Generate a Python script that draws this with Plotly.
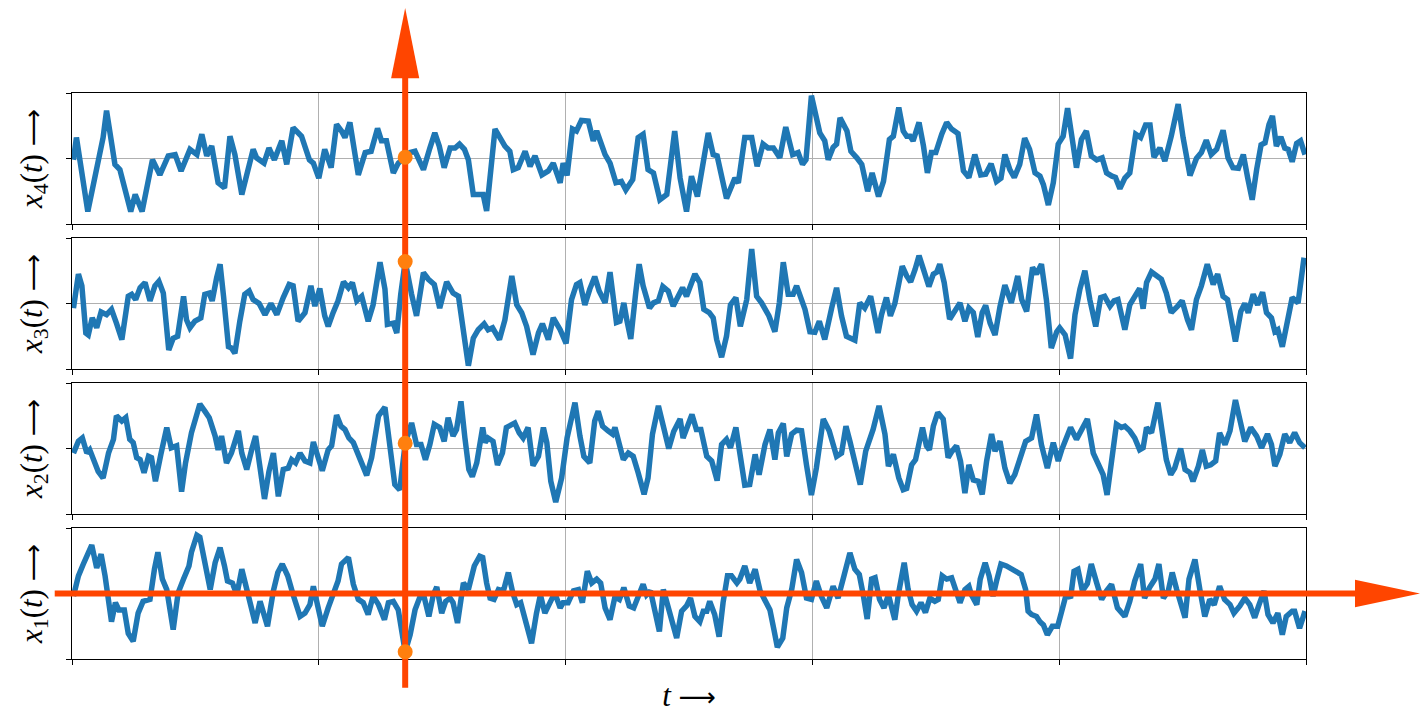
import plotly.graph_objects as go
from plotly.subplots import make_subplots

# Sampled signals x1..x4 as (t, value) pairs; t runs from 0 to 250.
X4_SAMPLES = [
    (0.3, -0.02), (0.9, 0.32), (3.2, -0.81), (5.3, -0.02), (6.3, 0.32), (7.0, 0.73), (8.7, -0.09),
    (9.7, -0.17), (10.7, -0.45), (11.9, -0.81), (12.8, -0.55), (14.2, -0.81), (16.3, -0.02),
    (17.8, -0.25), (19.5, 0.04), (20.9, 0.06), (22.1, -0.19), (23.9, 0.14), (25.3, 0.06), (26.3, 0.37),
    (27.3, 0.04), (28.3, 0.19), (29.6, -0.37), (30.9, -0.45), (32.0, 0.34), (33.0, 0.06), (34.4, -0.55),
    (35.4, -0.27), (36.7, 0.14), (37.4, 0.01), (38.9, -0.07), (39.9, 0.16), (41.0, -0.02), (42.5, 0.27),
    (43.5, -0.09), (44.8, 0.47), (46.5, 0.34), (48.1, -0.02), (48.9, -0.07), (50.0, -0.30), (51.2, 0.14),
    (52.5, -0.14), (53.6, 0.52), (54.6, 0.42), (55.3, 0.32), (56.3, 0.55), (58.0, -0.25), (59.4, 0.09),
    (60.6, 0.11), (61.9, 0.46), (62.7, 0.27), (63.7, 0.27), (65.1, -0.22), (66.1, -0.07), (67.5, 0.02),
    (68.5, 0.09), (69.5, 0.11), (71.2, -0.17), (72.5, 0.16), (73.5, 0.39), (74.4, 0.19), (75.4, -0.14),
    (76.6, 0.16), (77.6, 0.16), (78.5, 0.22), (79.5, 0.14), (80.3, -0.02), (81.3, -0.55), (82.6, -0.55),
    (83.3, -0.55), (84.0, -0.80), (84.7, -0.30), (85.7, 0.45), (86.7, 0.32), (87.7, 0.19), (88.7, 0.11),
    (89.4, -0.17), (90.4, -0.14), (91.8, 0.11), (92.8, -0.12), (93.8, 0.04), (95.2, -0.25), (96.5, -0.19),
    (97.5, -0.07), (98.9, -0.37), (99.5, -0.07), (100.3, -0.26), (101.4, 0.45), (102.2, 0.42),
    (103.2, 0.58), (104.6, 0.57), (105.6, 0.27), (106.3, 0.42), (108.0, 0.06), (109.0, -0.07),
    (110.2, -0.37), (111.3, -0.35), (112.2, -0.48), (113.6, -0.32), (114.7, 0.32), (115.7, 0.37),
    (116.7, -0.17), (117.8, -0.22), (119.1, -0.63), (120.5, -0.55), (122.1, 0.42), (123.2, -0.30),
    (124.5, -0.81), (125.5, -0.27), (126.7, -0.58), (128.9, 0.39), (129.9, 0.06), (130.7, 0.04),
    (132.6, -0.61), (134.3, -0.30), (135.0, -0.37), (136.3, 0.32), (137.7, 0.32), (138.8, -0.12),
    (140.0, 0.22), (141.0, 0.16), (142.1, 0.16), (143.4, 0.01), (144.6, 0.48), (146.0, 0.06),
    (147.1, 0.09), (148.0, -0.09), (148.7, -0.02), (149.8, 0.96), (151.5, 0.39), (152.5, 0.27),
    (153.2, -0.02), (154.2, 0.17), (154.9, 0.22), (155.6, 0.62), (157.0, 0.42), (157.8, 0.11),
    (159.0, 0.01), (160.0, -0.09), (161.2, -0.50), (162.1, -0.22), (163.4, -0.58), (164.4, -0.35),
    (165.6, 0.29), (166.4, 0.34), (167.5, 0.78), (168.4, 0.42), (169.1, 0.34), (169.8, 0.34),
    (170.4, 0.27), (171.6, 0.55), (172.5, 0.19), (173.3, -0.22), (174.1, 0.09), (175.0, 0.09),
    (176.2, 0.37), (177.2, 0.55), (178.2, 0.45), (179.5, 0.38), (180.6, -0.19), (181.7, -0.29),
    (182.9, 0.06), (184.1, -0.25), (185.1, -0.24), (186.2, -0.08), (187.3, -0.35), (188.2, -0.30),
    (189.0, 0.06), (190.0, -0.17), (190.9, -0.29), (192.0, -0.09), (193.0, 0.31), (194.0, 0.14),
    (195.1, -0.22), (196.1, -0.27), (196.8, -0.40), (197.8, -0.71), (198.8, -0.37), (199.8, 0.22),
    (200.8, 0.34), (201.7, 0.77), (202.7, 0.27), (203.5, -0.14), (204.5, 0.29), (205.5, 0.42),
    (206.5, 0.04), (207.6, -0.02), (208.7, 0.01), (209.6, -0.22), (210.7, -0.27), (211.4, -0.29),
    (212.3, -0.46), (213.3, -0.30), (214.3, -0.22), (215.5, 0.37), (216.5, 0.32), (217.5, 0.51),
    (218.4, 0.51), (219.2, 0.02), (220.4, 0.16), (221.4, -0.04), (222.7, 0.34), (224.1, 0.83),
    (225.1, 0.32), (226.5, -0.26), (227.8, 0.00), (228.8, 0.09), (229.8, 0.28), (230.8, 0.06),
    (231.9, 0.14), (233.2, 0.43), (234.2, 0.01), (235.2, -0.14), (236.3, -0.15), (237.3, 0.06),
    (238.2, -0.30), (239.1, -0.63), (240.0, -0.17), (240.9, 0.21), (241.7, 0.24), (242.5, 0.52),
    (243.2, 0.65), (244.0, 0.19), (244.9, 0.33), (245.7, 0.16), (246.4, 0.14), (247.2, -0.05),
    (248.1, 0.23), (248.9, 0.27), (249.8, 0.06),
]

X3_SAMPLES = [
    (0.3, -0.07), (1.3, 0.45), (2.0, 0.27), (2.8, -0.45), (3.3, -0.48), (4.1, -0.22), (5.0, -0.37),
    (5.9, -0.13), (7.0, -0.17), (8.0, -0.09), (9.0, -0.30), (10.1, -0.55), (11.4, 0.11), (12.1, 0.14),
    (12.9, 0.06), (13.8, 0.24), (14.8, 0.32), (15.8, 0.04), (16.8, 0.27), (17.6, 0.34), (18.5, 0.16),
    (19.6, -0.71), (20.5, -0.53), (21.4, -0.50), (22.6, 0.11), (23.2, -0.25), (23.9, -0.37),
    (24.9, -0.27), (26.1, -0.22), (26.9, 0.14), (27.8, 0.16), (28.4, 0.04), (29.3, 0.39), (30.0, 0.60),
    (30.7, 0.11), (31.7, -0.66), (32.3, -0.68), (33.0, -0.76), (34.0, -0.27), (35.0, 0.14), (35.9, 0.19),
    (36.7, 0.06), (37.9, 0.00), (39.1, -0.17), (40.3, 0.00), (41.5, -0.17), (42.8, 0.09), (44.0, 0.29),
    (44.8, 0.27), (45.8, -0.27), (47.2, -0.14), (48.4, 0.27), (49.2, -0.04), (50.2, 0.23), (51.2, -0.19),
    (51.9, -0.35), (52.9, -0.14), (53.9, 0.04), (55.0, 0.33), (56.0, 0.24), (56.8, 0.32), (57.7, 0.04),
    (58.7, 0.11), (60.0, -0.27), (61.0, -0.02), (62.4, 0.63), (63.4, 0.22), (63.9, -0.32), (65.1, -0.30),
    (65.8, -0.45), (66.6, 0.14), (67.5, 0.64), (68.8, 0.14), (69.8, -0.19), (71.2, 0.47), (72.2, 0.37),
    (73.4, 0.29), (74.5, -0.07), (75.9, 0.33), (77.2, 0.16), (78.3, 0.11), (79.3, -0.40), (80.3, -0.95),
    (81.3, -0.53), (82.3, -0.40), (83.5, -0.31), (84.3, -0.40), (85.2, -0.37), (86.6, -0.55),
    (87.7, -0.25), (89.1, 0.42), (90.1, -0.02), (91.1, -0.14), (92.1, -0.35), (93.4, -0.78),
    (94.5, -0.45), (95.3, -0.31), (96.5, -0.55), (97.5, -0.22), (98.9, -0.40), (100.1, -0.61),
    (101.2, 0.06), (102.2, 0.29), (102.9, 0.32), (103.9, -0.02), (104.9, 0.22), (105.9, 0.41),
    (106.8, 0.19), (108.0, 0.01), (109.0, 0.48), (109.7, 0.06), (110.3, -0.29), (111.0, -0.27),
    (111.8, 0.01), (112.4, -0.25), (113.2, -0.54), (114.2, 0.16), (114.9, 0.60), (115.7, 0.27),
    (117.0, -0.07), (117.8, 0.01), (118.8, 0.04), (119.7, 0.26), (120.8, 0.19), (121.8, -0.04),
    (122.8, 0.09), (123.7, 0.24), (124.5, 0.11), (125.5, 0.34), (126.2, 0.45), (127.2, 0.32),
    (128.0, -0.09), (129.1, -0.14), (129.9, -0.22), (130.6, -0.55), (131.6, -0.82), (132.6, -0.50),
    (133.4, -0.02), (134.5, 0.09), (135.4, -0.35), (136.7, 0.06), (137.7, 0.83), (138.7, 0.11),
    (139.7, 0.01), (141.2, -0.19), (142.4, -0.43), (143.3, 0.01), (144.1, 0.63), (145.1, 0.14),
    (146.1, 0.14), (146.8, 0.27), (147.6, 0.09), (148.5, -0.09), (149.5, -0.43), (150.5, -0.44),
    (151.4, -0.27), (152.5, -0.55), (153.9, -0.07), (154.9, 0.24), (155.9, -0.19), (156.9, -0.50),
    (158.6, -0.56), (159.6, 0.01), (160.6, -0.07), (161.8, 0.11), (163.3, -0.45), (164.0, -0.17),
    (165.0, 0.09), (165.8, -0.19), (166.7, 0.00), (167.4, 0.32), (168.2, 0.57), (169.1, 0.42),
    (169.9, 0.33), (170.8, 0.52), (171.6, 0.73), (172.5, 0.52), (173.6, 0.26), (174.5, 0.45),
    (175.2, 0.48), (175.8, 0.60), (176.7, 0.32), (177.8, -0.24), (178.9, -0.12), (179.9, 0.01),
    (180.9, -0.27), (181.7, -0.07), (182.6, -0.14), (183.5, -0.51), (184.4, -0.14), (185.1, -0.03),
    (186.0, -0.30), (187.0, -0.48), (188.0, -0.05), (189.0, 0.28), (190.3, 0.01), (191.6, 0.42),
    (192.4, 0.06), (193.4, -0.12), (194.6, 0.55), (195.4, 0.45), (196.4, 0.60), (197.4, 0.06),
    (198.4, -0.68), (199.5, -0.43), (200.1, -0.37), (201.2, -0.48), (202.3, -0.84), (203.2, -0.17),
    (204.2, 0.22), (205.2, 0.50), (206.2, 0.06), (207.4, -0.35), (208.4, 0.09), (209.2, 0.11),
    (210.3, -0.04), (211.1, 0.04), (211.9, 0.06), (213.3, -0.40), (214.3, -0.02), (215.3, 0.11),
    (216.3, 0.23), (217.0, -0.08), (217.7, 0.32), (218.7, 0.48), (219.7, 0.42), (220.7, 0.37),
    (221.7, 0.16), (222.7, -0.14), (224.0, -0.04), (224.9, 0.04), (226.0, -0.25), (226.8, -0.40),
    (227.8, 0.06), (228.8, 0.27), (230.0, 0.60), (231.2, 0.29), (232.1, 0.45), (233.2, 0.11),
    (234.1, 0.06), (234.9, -0.30), (235.7, -0.58), (236.8, -0.12), (237.6, 0.00), (238.3, -0.14),
    (239.3, 0.14), (240.2, -0.02), (241.2, 0.17), (242.0, -0.14), (243.0, -0.22), (243.7, -0.43),
    (244.3, -0.40), (245.2, -0.66), (246.2, -0.30), (247.2, 0.09), (248.4, 0.01), (249.6, 0.70),
]

X2_SAMPLES = [
    (0.3, -0.07), (1.3, 0.11), (2.1, 0.16), (3.0, -0.07), (3.6, -0.02), (4.7, -0.27), (5.3, -0.35),
    (6.3, -0.45), (7.4, -0.07), (8.4, 0.14), (9.0, 0.50), (10.1, 0.42), (10.9, 0.47), (11.7, 0.14),
    (12.4, 0.09), (13.1, -0.14), (13.8, -0.17), (14.6, -0.37), (15.5, -0.12), (16.1, -0.14),
    (16.9, -0.50), (18.0, -0.09), (19.2, 0.32), (20.1, 0.01), (21.2, 0.04), (22.2, -0.66), (23.0, -0.22),
    (24.2, 0.24), (25.3, 0.52), (25.9, 0.68), (26.9, 0.57), (27.8, 0.47), (29.0, 0.19), (29.6, -0.02),
    (30.3, 0.19), (31.3, -0.22), (32.3, -0.07), (33.7, 0.27), (34.4, -0.07), (35.4, -0.32), (36.4, -0.02),
    (37.2, 0.19), (37.9, -0.19), (39.0, -0.77), (39.9, -0.35), (40.8, -0.07), (41.8, -0.73),
    (42.8, -0.32), (43.8, -0.30), (44.5, -0.17), (45.3, -0.22), (46.2, -0.07), (47.2, -0.19),
    (48.2, -0.22), (48.9, 0.10), (49.6, -0.07), (50.7, -0.34), (51.9, -0.02), (52.6, 0.04), (53.6, 0.51),
    (54.5, 0.34), (55.3, 0.29), (56.1, 0.16), (57.0, 0.09), (57.7, -0.05), (58.7, -0.22), (59.7, -0.41),
    (60.7, -0.14), (62.1, 0.50), (63.4, 0.63), (64.4, 0.06), (65.4, -0.55), (66.4, -0.63), (67.5, 0.08),
    (68.8, 0.39), (69.8, 0.06), (70.7, 0.06), (71.6, -0.17), (72.5, 0.06), (73.4, 0.37), (74.5, 0.32),
    (75.4, 0.11), (76.2, 0.47), (77.2, 0.19), (77.9, 0.29), (78.8, 0.72), (79.6, 0.16), (80.4, -0.32),
    (81.1, -0.43), (82.0, -0.22), (83.2, 0.32), (83.7, 0.09), (84.3, 0.16), (85.3, 0.11), (86.2, -0.25),
    (87.2, -0.07), (88.0, 0.32), (89.1, 0.37), (89.7, 0.39), (90.6, 0.24), (91.4, 0.16), (92.4, 0.32),
    (93.4, -0.26), (94.5, -0.12), (95.5, 0.32), (96.2, 0.09), (97.0, -0.50), (98.0, -0.82),
    (99.2, -0.45), (100.3, 0.16), (101.9, 0.70), (102.9, 0.19), (103.7, -0.12), (104.9, -0.22),
    (105.9, 0.42), (106.6, 0.57), (107.5, 0.34), (108.6, 0.27), (109.5, 0.22), (110.0, 0.32),
    (110.9, 0.01), (111.7, -0.17), (112.7, -0.07), (113.7, -0.12), (114.7, -0.37), (115.9, -0.70),
    (116.7, -0.45), (117.6, 0.22), (118.8, 0.65), (119.8, 0.37), (120.9, 0.00), (121.9, 0.26),
    (123.2, 0.45), (123.8, 0.16), (124.6, 0.32), (125.6, 0.52), (126.5, 0.29), (127.4, 0.29),
    (128.6, -0.12), (129.6, -0.19), (130.7, -0.49), (131.6, 0.06), (132.6, 0.14), (133.4, 0.01),
    (134.5, 0.32), (135.3, -0.02), (136.3, -0.56), (137.3, -0.55), (138.4, -0.09), (139.2, -0.40),
    (140.4, 0.06), (141.4, 0.29), (142.4, -0.17), (143.1, 0.24), (144.1, 0.38), (144.8, -0.12),
    (145.8, 0.22), (146.8, 0.28), (147.8, 0.27), (148.8, -0.25), (149.8, -0.71), (150.8, -0.30),
    (152.2, 0.45), (153.4, 0.27), (154.9, -0.12), (155.9, -0.07), (156.8, 0.34), (157.6, 0.11),
    (158.6, -0.17), (159.7, -0.55), (160.8, -0.04), (162.3, 0.29), (163.5, 0.65), (164.7, 0.22),
    (165.4, -0.27), (166.4, -0.09), (167.5, -0.45), (168.4, -0.63), (169.1, -0.61), (170.1, -0.25),
    (170.9, -0.17), (171.4, -0.02), (172.3, 0.32), (173.1, 0.04), (173.7, -0.02), (174.5, 0.34),
    (175.4, 0.55), (176.5, 0.45), (177.5, -0.14), (178.3, -0.04), (179.2, 0.04), (180.0, -0.19),
    (180.9, -0.68), (181.7, -0.25), (182.6, -0.48), (183.6, -0.50), (184.4, -0.70), (185.3, -0.19),
    (186.3, 0.22), (187.0, -0.04), (188.0, 0.11), (189.0, -0.30), (190.0, -0.53), (191.0, -0.40),
    (192.0, -0.14), (193.2, 0.11), (194.4, 0.16), (195.4, 0.52), (196.4, 0.06), (197.6, -0.30),
    (198.8, 0.09), (199.8, -0.19), (200.5, -0.02), (201.5, 0.19), (202.3, 0.32), (203.5, 0.14),
    (204.5, 0.27), (205.7, 0.45), (206.9, -0.07), (207.9, -0.22), (208.9, -0.40), (209.7, -0.71),
    (210.6, -0.14), (211.6, 0.37), (212.6, 0.32), (213.3, 0.34), (214.3, 0.27), (215.3, 0.16),
    (216.3, -0.02), (217.0, 0.01), (217.7, 0.32), (218.7, 0.24), (220.0, 0.70), (221.1, 0.19),
    (221.7, -0.17), (222.6, -0.40), (223.4, -0.30), (224.6, 0.00), (225.5, -0.32), (226.5, -0.37),
    (227.1, -0.50), (228.2, -0.27), (229.0, -0.02), (229.8, -0.27), (230.7, -0.25), (231.7, -0.19),
    (232.5, 0.24), (233.6, 0.06), (234.6, 0.27), (235.7, 0.74), (236.6, 0.42), (237.6, 0.11),
    (238.8, 0.32), (240.0, 0.19), (241.0, 0.01), (242.2, 0.22), (243.0, 0.06), (243.7, -0.27),
    (244.7, -0.09), (245.7, 0.22), (246.7, 0.09), (247.7, 0.24), (248.7, 0.09), (249.8, 0.01),
]

X1_SAMPLES = [
    (0.3, -0.04), (1.3, 0.27), (2.3, 0.45), (3.2, 0.60), (4.0, 0.74), (5.0, 0.39), (5.9, 0.60),
    (6.7, 0.27), (7.4, -0.14), (8.0, -0.43), (8.8, -0.14), (9.5, -0.25), (10.6, -0.25), (11.4, -0.61),
    (12.4, -0.73), (13.4, -0.30), (14.4, -0.12), (15.8, -0.09), (16.7, 0.37), (17.4, 0.63), (18.3, 0.22),
    (19.2, 0.06), (20.5, -0.55), (21.5, 0.01), (22.6, 0.22), (23.7, 0.42), (24.2, 0.63), (25.3, 0.89),
    (25.9, 0.86), (26.9, 0.52), (28.0, 0.06), (29.0, 0.47), (30.0, 0.70), (30.9, 0.42), (31.5, 0.19),
    (32.5, 0.16), (33.4, -0.02), (34.4, 0.37), (35.4, 0.06), (36.3, -0.27), (37.1, -0.45), (38.1, -0.12),
    (38.8, -0.30), (39.6, -0.50), (40.8, 0.04), (41.7, 0.32), (42.6, 0.45), (43.7, 0.27), (44.8, -0.02),
    (46.2, -0.35), (47.2, -0.30), (48.2, -0.17), (48.9, 0.11), (49.9, -0.19), (50.7, -0.50),
    (51.9, -0.22), (52.9, -0.04), (53.9, 0.19), (54.6, 0.45), (56.0, 0.55), (57.0, 0.14), (58.0, -0.09),
    (59.0, -0.14), (60.0, -0.32), (61.0, -0.04), (62.1, -0.17), (63.3, -0.40), (64.1, -0.14),
    (65.1, -0.12), (66.1, -0.25), (67.5, -0.89), (68.5, -0.63), (69.5, -0.25), (70.5, -0.05),
    (71.4, -0.07), (72.3, -0.35), (73.2, -0.02), (73.9, 0.10), (74.9, -0.30), (75.7, -0.12),
    (76.6, -0.07), (77.2, -0.14), (78.1, -0.45), (79.3, 0.16), (80.3, 0.06), (81.5, 0.42), (82.6, 0.57),
    (83.2, 0.55), (84.0, 0.16), (84.7, -0.07), (85.5, -0.09), (86.4, 0.06), (87.4, 0.04), (88.4, 0.32),
    (89.3, 0.01), (90.1, -0.17), (90.9, -0.14), (91.8, -0.37), (92.5, -0.55), (93.1, -0.76),
    (94.1, -0.30), (94.9, -0.02), (95.8, -0.30), (96.8, -0.12), (97.8, 0.01), (98.9, -0.22),
    (99.5, -0.14), (100.5, -0.14), (101.6, 0.04), (102.6, 0.06), (103.4, -0.14), (104.4, 0.34),
    (105.3, 0.16), (106.3, 0.22), (107.1, 0.16), (108.0, -0.22), (109.0, -0.40), (110.0, -0.05),
    (110.9, -0.09), (111.8, 0.09), (112.9, -0.19), (113.8, -0.22), (114.9, -0.04), (115.7, 0.14),
    (116.4, -0.02), (117.2, 0.04), (118.1, -0.27), (119.0, -0.58), (119.8, 0.06), (120.8, -0.19),
    (121.7, -0.45), (122.5, -0.68), (123.5, -0.27), (124.5, -0.19), (125.3, -0.07), (126.2, -0.35),
    (127.2, -0.43), (127.9, -0.27), (128.6, -0.27), (129.2, -0.12), (130.2, -0.32), (131.1, -0.66),
    (131.9, -0.14), (132.8, 0.27), (133.6, 0.27), (134.7, 0.16), (135.3, 0.22), (136.3, 0.42),
    (137.3, 0.16), (138.4, 0.37), (139.4, 0.04), (140.4, -0.12), (141.4, -0.25), (142.2, -0.55),
    (142.9, -0.82), (144.0, -0.68), (144.8, -0.22), (145.8, 0.06), (146.8, 0.52), (147.8, 0.32),
    (148.8, -0.07), (149.8, -0.09), (150.8, 0.19), (151.8, -0.04), (152.9, -0.22), (154.2, 0.11),
    (155.2, -0.07), (156.4, 0.27), (157.6, 0.62), (158.6, 0.37), (159.5, 0.29), (160.3, -0.02),
    (161.1, -0.39), (162.0, 0.22), (162.7, 0.24), (163.6, -0.09), (164.5, -0.22), (165.4, -0.02),
    (166.7, -0.40), (167.4, -0.02), (168.6, 0.47), (169.4, 0.06), (170.2, -0.17), (171.1, -0.27),
    (172.0, -0.14), (172.9, -0.29), (173.8, -0.07), (174.8, -0.12), (175.5, -0.09), (176.3, 0.27),
    (177.2, 0.22), (178.2, 0.24), (179.0, 0.06), (179.9, -0.14), (180.9, 0.06), (181.7, 0.11),
    (182.2, -0.02), (183.3, -0.17), (184.0, 0.22), (185.0, 0.47), (185.8, 0.27), (186.6, -0.04),
    (187.3, 0.19), (188.2, 0.45), (189.3, 0.42), (190.3, 0.37), (191.3, 0.34), (192.3, 0.29),
    (193.2, 0.06), (193.7, -0.27), (194.4, -0.32), (195.4, -0.35), (196.1, -0.43), (196.8, -0.48),
    (197.6, -0.63), (198.6, -0.50), (199.7, -0.50), (200.5, -0.27), (201.5, 0.01), (202.3, -0.07),
    (203.0, 0.34), (203.8, 0.37), (204.7, 0.04), (205.7, 0.15), (206.5, 0.45), (207.6, 0.16),
    (208.6, -0.09), (209.6, 0.04), (210.6, 0.14), (211.8, -0.22), (213.3, -0.35), (214.3, -0.12),
    (215.3, 0.19), (216.5, 0.45), (217.3, -0.07), (218.3, 0.09), (219.4, 0.22), (220.2, 0.45),
    (221.1, -0.07), (222.1, 0.04), (222.9, 0.32), (223.8, 0.06), (224.6, -0.17), (225.5, -0.37),
    (226.3, 0.22), (227.5, 0.52), (228.5, 0.06), (229.5, -0.35), (230.5, -0.09), (231.4, -0.17),
    (232.5, 0.11), (233.5, -0.09), (234.6, -0.17), (235.4, -0.30), (236.6, -0.19), (237.6, -0.07),
    (238.6, -0.17), (239.6, -0.37), (240.4, -0.19), (241.5, 0.04), (242.3, -0.32), (243.3, -0.45),
    (244.3, -0.30), (245.2, -0.63), (246.0, -0.35), (247.2, -0.27), (247.7, -0.27), (248.7, -0.53),
    (249.8, -0.27),
]

FONT = "Liberation Serif"
ARROW_SPAN = '<span style="font-family:\'DejaVu Sans\';font-size:26px">⟶</span>'

# Panels from top to bottom, with their axis titles
PANELS = [
    ("<i>x</i><sub>4</sub>(<i>t</i>) " + ARROW_SPAN, X4_SAMPLES),
    ("<i>x</i><sub>3</sub>(<i>t</i>) " + ARROW_SPAN, X3_SAMPLES),
    ("<i>x</i><sub>2</sub>(<i>t</i>) " + ARROW_SPAN, X2_SAMPLES),
    ("<i>x</i><sub>1</sub>(<i>t</i>) " + ARROW_SPAN, X1_SAMPLES),
]
X_TITLE = "<i>t</i> " + ARROW_SPAN

T_RANGE = [0, 250]
T_TICK = 50
T_MARK = 67.5          # time instant highlighted by the vertical arrow

LINE_BLUE = "#1f77b4"
DOT_ORANGE = "#ff7f0e"
ARROW_RED = "#ff4500"
GRID = "#b0b0b0"

PLOT_TOP = 93
PLOT_H = 566
n = len(PANELS)
fig = make_subplots(rows=n, cols=1, shared_xaxes=True, vertical_spacing=14 / PLOT_H)

for i, (title, samples) in enumerate(PANELS, start=1):
    t = [p[0] for p in samples]
    v = [p[1] for p in samples]
    fig.add_trace(
        go.Scatter(x=t, y=v, mode="lines", line=dict(color=LINE_BLUE, width=5.5),
                   showlegend=False, hoverinfo="skip"),
        row=i, col=1,
    )
    fig.update_yaxes(
        range=[-1, 1], tickvals=[-1, 0, 1], showticklabels=False, automargin=False,
        ticks="outside", ticklen=5, tickwidth=1.3, tickcolor="black",
        showgrid=True, gridcolor=GRID, gridwidth=1.3, zeroline=False,
        showline=True, linecolor="black", linewidth=1.3, mirror=True,
        title=dict(text=title, font=dict(family=FONT, size=31, color="black"), standoff=14),
        row=i, col=1,
    )
    fig.update_xaxes(
        range=T_RANGE, tick0=0, dtick=T_TICK, showticklabels=False, automargin=False,
        ticks="outside", ticklen=5, tickwidth=1.3, tickcolor="black",
        showgrid=True, gridcolor=GRID, gridwidth=1.3, zeroline=False,
        showline=True, linecolor="black", linewidth=1.3, mirror=True,
        row=i, col=1,
    )

fig.update_xaxes(
    title=dict(text=X_TITLE, font=dict(family=FONT, size=31, color="black"), standoff=21),
    row=n, col=1,
)

bottom_x = "x%d" % n
bottom_y = "y%d" % n

# Arrow geometry (head sizes in t units / paper units)
head_half_t = 2.85
head_half_y = 0.21
shapes = [
    # vertical arrow at T_MARK
    dict(type="line", xref=bottom_x, yref="paper", x0=T_MARK, x1=T_MARK, y0=-0.051, y1=1.035,
         line=dict(color=ARROW_RED, width=6), layer="above"),
    dict(type="path", xref=bottom_x, yref="paper",
         path="M %f,%f L %f,%f L %f,%f Z" % (T_MARK - head_half_t, 1.026, T_MARK + head_half_t, 1.026,
                                             T_MARK, 1.15),
         fillcolor=ARROW_RED, line=dict(width=0), layer="above"),
    # horizontal arrow along x1 = 0
    dict(type="line", xref="paper", yref=bottom_y, x0=-0.014, x1=1.045, y0=0, y1=0,
         line=dict(color=ARROW_RED, width=6), layer="above"),
    dict(type="path", xref="paper", yref=bottom_y,
         path="M %f,%f L %f,%f L %f,%f Z" % (1.0397, -head_half_y, 1.0397, head_half_y, 1.0924, 0),
         fillcolor=ARROW_RED, line=dict(width=0), layer="above"),
]

# Dots where the vertical arrow crosses each signal
for i, (_, samples) in enumerate(PANELS, start=1):
    value = dict(samples)[T_MARK]
    shapes.append(dict(
        type="circle", xref="x%d" % i, yref="y%d" % i,
        xsizemode="pixel", ysizemode="pixel", xanchor=T_MARK, yanchor=value,
        x0=-7.5, x1=7.5, y0=-7.5, y1=7.5,
        fillcolor=DOT_ORANGE, line=dict(width=0), layer="above",
    ))

fig.update_layout(
    width=1420, height=713,
    margin=dict(l=72, r=114, t=PLOT_TOP, b=713 - PLOT_TOP - PLOT_H),
    paper_bgcolor="white", plot_bgcolor="white",
    shapes=shapes,
    showlegend=False,
)

fig.write_html("out.html")
